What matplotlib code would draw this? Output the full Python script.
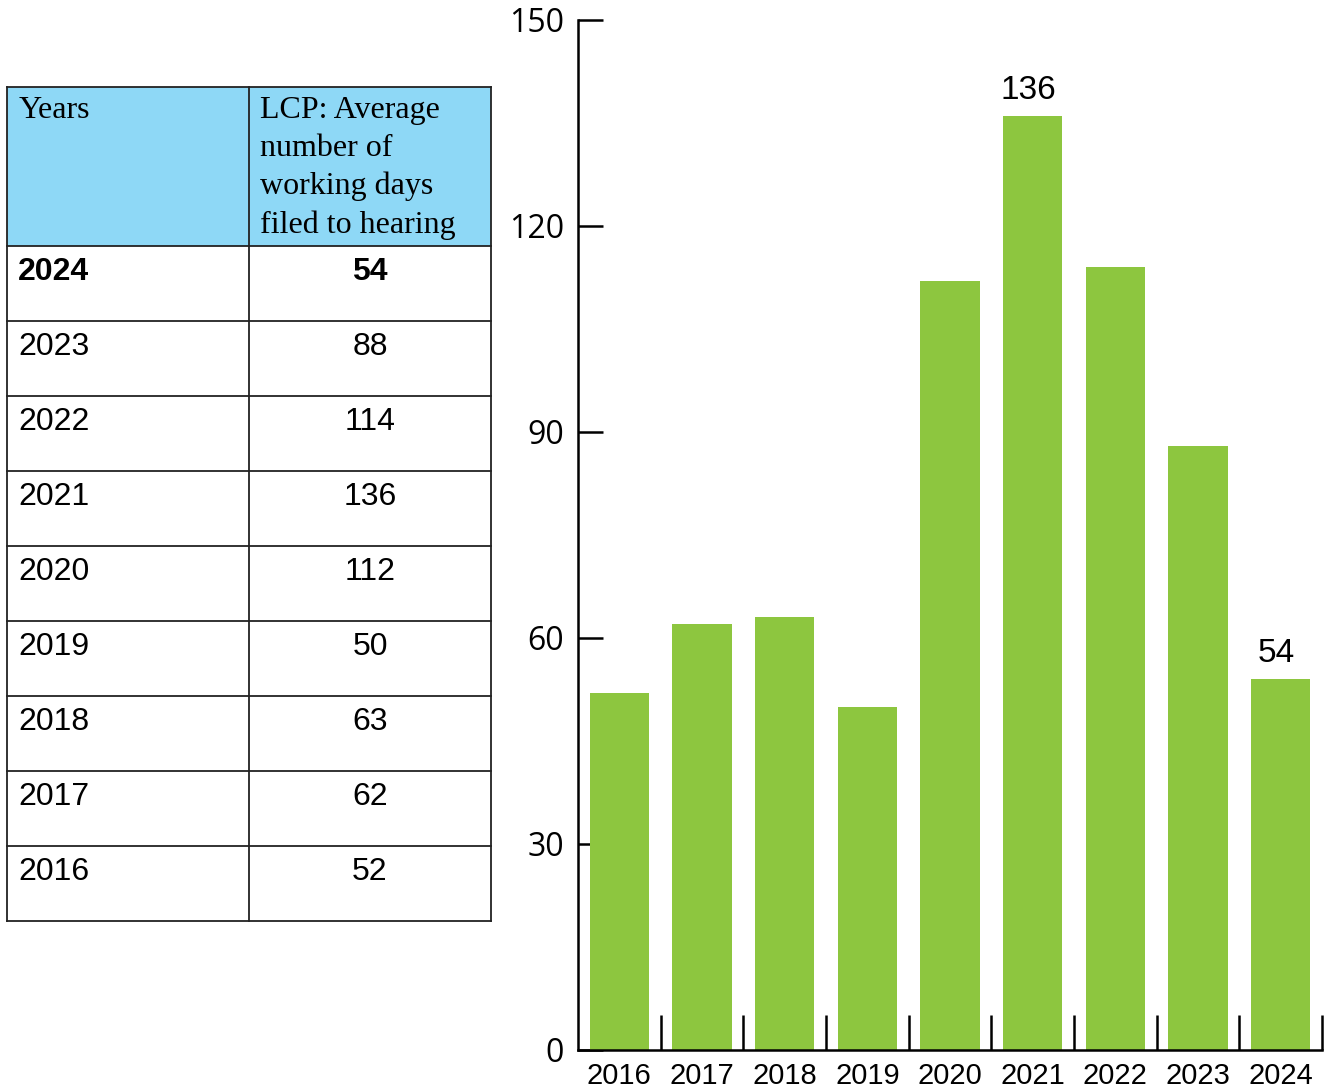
import matplotlib
matplotlib.use("Agg")
import matplotlib.pyplot as plt
from matplotlib.patches import Rectangle

# data
years = ["2016", "2017", "2018", "2019", "2020", "2021", "2022", "2023", "2024"]
days = [52, 62, 63, 50, 112, 136, 114, 88, 54]
labelled = ["2021", "2024"]
yticks = [0, 30, 60, 90, 120, 150]
header = ["Years", "LCP: Average\nnumber of\nworking days\nfiled to hearing"]

green = "#8dc63f"
blue = "#8ed8f6"
W, H = 1327, 1090

fig = plt.figure(figsize=(W / 100, H / 100), dpi=100)

# ---- table, drawn in pixel coordinates on a full-figure axes
tab = fig.add_axes([0, 0, 1, 1])
tab.set_xlim(0, W)
tab.set_ylim(H, 0)
tab.axis("off")

x0, xm, x1 = 7, 249, 491
top, head_bot, row_h = 87, 246, 75
rows = list(zip(years, days))[::-1]
bottom = head_bot + row_h * len(rows)

tab.add_patch(Rectangle((x0, top), x1 - x0, head_bot - top, facecolor=blue,
                        edgecolor="none", zorder=1))
lw = 1.3
for y in [top, head_bot] + [head_bot + row_h * (i + 1) for i in range(len(rows))]:
    tab.plot([x0, x1], [y, y], color="#222222", lw=lw, zorder=2)
for x in (x0, xm, x1):
    tab.plot([x, x], [top, bottom], color="#222222", lw=lw, zorder=2)

tab.text(x0 + 12, top + 9, header[0], family="Liberation Serif", fontsize=23,
         va="top", ha="left", linespacing=1.4)
tab.text(xm + 11, top + 9, header[1], family="Liberation Serif", fontsize=23,
         va="top", ha="left", linespacing=1.4)

for i, (yr, val) in enumerate(rows):
    yy = head_bot + row_h * i + 11
    weight = "bold" if i == 0 else "normal"
    tab.text(x0 + 11, yy, yr, family="Liberation Sans", fontsize=23,
             weight=weight, va="top", ha="left")
    tab.text((xm + x1) / 2, yy, str(val), family="Liberation Sans", fontsize=23,
             weight=weight, va="top", ha="center")

# ---- bar chart
ax = fig.add_axes([578 / W, (H - 1050) / H, (1322 - 578) / W, 1030 / H])
x = range(len(years))
ax.bar(x, days, width=0.72, color=green, zorder=2)
ax.set_xlim(-0.5, len(years) - 0.5)
ax.set_ylim(0, 150)
ax.set_yticks(yticks)
ax.set_yticklabels([str(t) for t in yticks], family="Open Sans", fontsize=23)
ax.tick_params(axis="y", direction="in", length=18, width=1.8, pad=10)

ax.set_xticks([i + 0.5 for i in range(len(years))])
ax.set_xticklabels([])
ax.tick_params(axis="x", direction="in", length=25, width=1.8)
for i, yr in enumerate(years):
    ax.text(i, -1.8, yr, ha="center", va="top",
            family="Liberation Sans", fontsize=21)

for i, (yr, val) in enumerate(zip(years, days)):
    if yr in labelled:
        ax.text(i - 0.05, val + 1.5, str(val), ha="center", va="bottom",
                family="Liberation Sans", fontsize=24)

for s in ("top", "right"):
    ax.spines[s].set_visible(False)
for s in ("left", "bottom"):
    ax.spines[s].set_linewidth(1.8)

fig.savefig("out.png", dpi=100)
